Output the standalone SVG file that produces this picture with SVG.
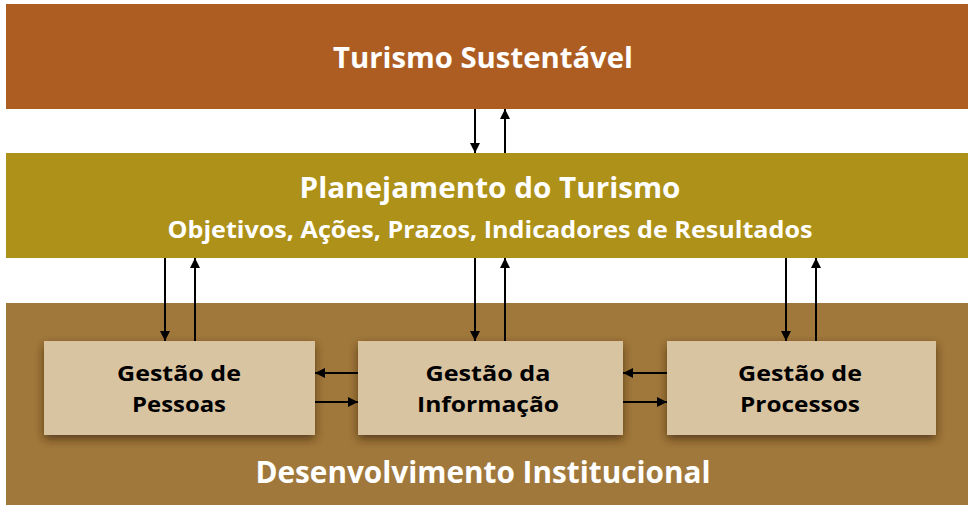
<svg xmlns="http://www.w3.org/2000/svg" width="968" height="506" viewBox="0 0 968 506">
<style>
.t{font-family:"Open Sans","Liberation Sans",sans-serif;font-weight:bold;text-anchor:middle}
.w{fill:#ffffff}
.k{fill:#000000;font-size:22px}
.c{stroke:#000;stroke-width:2;fill:none;marker-end:url(#ah)}
.box{fill:#D9C4A2;filter:url(#sh)}
</style>
<defs>
<marker id="ah" viewBox="0 0 10 16" refX="10" refY="8" markerWidth="10" markerHeight="16" markerUnits="userSpaceOnUse" orient="auto">
<path d="M0,3 L10,8 L0,13 Z" fill="#000"/>
</marker>
<filter id="sh" x="-10%" y="-20%" width="125%" height="150%">
<feDropShadow dx="0" dy="4" stdDeviation="5" flood-color="#3a2208" flood-opacity="0.7"/>
</filter>
</defs>
<rect x="0" y="0" width="968" height="506" fill="#ffffff"/>
<g id="turismo-sustentavel">
<rect x="6" y="4" width="962" height="105" fill="#AE5D22"/>
<text class="t w" x="483" y="68" font-size="29" textLength="300" lengthAdjust="spacingAndGlyphs">Turismo Sustentável</text>
</g>
<g id="planejamento">
<rect x="6" y="153" width="962" height="105" fill="#AE9118"/>
<text class="t w" x="490" y="198" font-size="29" textLength="381" lengthAdjust="spacingAndGlyphs">Planejamento do Turismo</text>
<text class="t w" x="490" y="238" font-size="23" textLength="645" lengthAdjust="spacingAndGlyphs">Objetivos, Ações, Prazos, Indicadores de Resultados</text>
</g>
<g id="desenvolvimento">
<rect x="6" y="303" width="962" height="202" fill="#A0783B"/>
<text class="t w" x="483" y="483" font-size="30" textLength="455" lengthAdjust="spacingAndGlyphs">Desenvolvimento Institucional</text>
</g>
<g id="gestao-pessoas">
<rect class="box" x="44" y="341" width="271" height="94"/>
<text class="t k" x="179" y="381" textLength="124" lengthAdjust="spacingAndGlyphs">Gestão de</text>
<text class="t k" x="179" y="412" textLength="94" lengthAdjust="spacingAndGlyphs">Pessoas</text>
</g>
<g id="gestao-informacao">
<rect class="box" x="358" y="341" width="265" height="94"/>
<text class="t k" x="488" y="381" textLength="125" lengthAdjust="spacingAndGlyphs">Gestão da</text>
<text class="t k" x="488" y="412" textLength="142" lengthAdjust="spacingAndGlyphs">Informação</text>
</g>
<g id="gestao-processos">
<rect class="box" x="667" y="341" width="269" height="94"/>
<text class="t k" x="800" y="381" textLength="124" lengthAdjust="spacingAndGlyphs">Gestão de</text>
<text class="t k" x="800" y="412" textLength="120" lengthAdjust="spacingAndGlyphs">Processos</text>
</g>
<g id="connectors">
<line class="c" x1="475" y1="109" x2="475" y2="153"/>
<line class="c" x1="505" y1="153" x2="505" y2="109"/>
<line class="c" x1="165" y1="258" x2="165" y2="341"/>
<line class="c" x1="195" y1="341" x2="195" y2="258"/>
<line class="c" x1="475" y1="258" x2="475" y2="341"/>
<line class="c" x1="505" y1="341" x2="505" y2="258"/>
<line class="c" x1="786" y1="258" x2="786" y2="341"/>
<line class="c" x1="816" y1="341" x2="816" y2="258"/>
<line class="c" x1="358" y1="373" x2="315" y2="373"/>
<line class="c" x1="315" y1="402" x2="358" y2="402"/>
<line class="c" x1="667" y1="373" x2="623" y2="373"/>
<line class="c" x1="623" y1="402" x2="667" y2="402"/>
</g>
</svg>
